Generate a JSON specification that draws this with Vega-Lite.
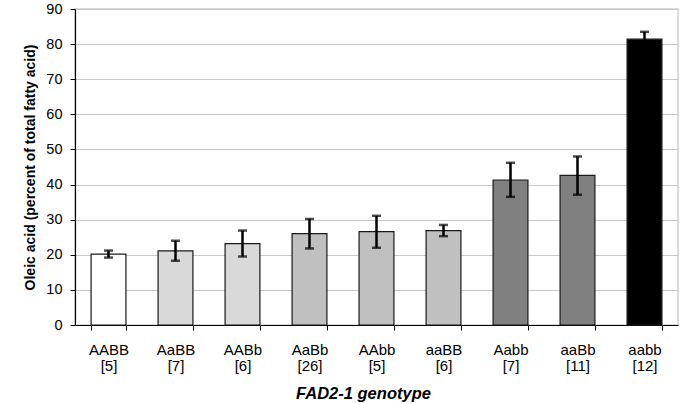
{
  "$schema": "https://vega.github.io/schema/vega-lite/v6.json",
  "width": 603,
  "height": 316,
  "autosize": {"type": "none"},
  "padding": {"left": 75, "top": 9, "right": 7, "bottom": 78},
  "background": "white",
  "config": {
    "font": "Liberation Sans",
    "view": {"stroke": "#cfcfcf", "strokeWidth": 1.5},
    "axisY": {
      "titleFontSize": 14,
      "titleFontWeight": "bold",
      "titleColor": "black",
      "titlePadding": 8,
      "labelOverlap": false,
      "labelFontSize": 14.5,
      "labelColor": "black",
      "labelPadding": 8,
      "tickColor": "black",
      "tickSize": 5,
      "domainColor": "black",
      "domainWidth": 1.2,
      "grid": true,
      "gridColor": "#c8c8c8",
      "gridWidth": 1.2
    }
  },
  "data": {
    "values": [
      {"label": "AABB [5]", "mutant_alleles": 0, "oleic": 20.2, "lower": 19.2, "upper": 21.2},
      {"label": "AaBB [7]", "mutant_alleles": 1, "oleic": 21.1, "lower": 18.3, "upper": 24.0},
      {"label": "AABb [6]", "mutant_alleles": 1, "oleic": 23.2, "lower": 19.5, "upper": 26.9},
      {"label": "AaBb [26]", "mutant_alleles": 2, "oleic": 26.0, "lower": 21.8, "upper": 30.2},
      {"label": "AAbb [5]", "mutant_alleles": 2, "oleic": 26.6, "lower": 22.0, "upper": 31.1},
      {"label": "aaBB [6]", "mutant_alleles": 2, "oleic": 26.9, "lower": 25.3, "upper": 28.5},
      {"label": "Aabb [7]", "mutant_alleles": 3, "oleic": 41.3, "lower": 36.5, "upper": 46.2},
      {"label": "aaBb [11]", "mutant_alleles": 3, "oleic": 42.6, "lower": 37.1, "upper": 48.0},
      {"label": "aabb [12]", "mutant_alleles": 4, "oleic": 81.4, "lower": 79.3, "upper": 83.5}
    ]
  },
  "encoding": {
    "x": {
      "field": "label",
      "type": "nominal",
      "sort": null,
      "scale": {"paddingInner": 0.48, "paddingOuter": 0.24},
      "axis": {
        "title": "FAD2-1 genotype",
        "titleFont": "Liberation Sans",
        "titleFontSize": 16.5,
        "titleFontWeight": "bold",
        "titleFontStyle": "italic",
        "titleColor": "black",
        "titlePadding": 12,
        "titleX": 288,
        "titleAnchor": "start",
        "titleAlign": "center",
        "labelExpr": "split(datum.label, ' ')",
        "labelAngle": 0,
        "labelFontSize": 15,
        "labelLineHeight": 16.5,
        "labelColor": "black",
        "labelPadding": 12,
        "tickBand": "extent",
        "tickColor": "black",
        "tickSize": 5,
        "domainColor": "black",
        "domainWidth": 1.2,
        "grid": false
      }
    }
  },
  "layer": [
    {
      "mark": {"type": "bar", "stroke": "#1a1a1a", "strokeWidth": 1.2},
      "encoding": {
        "y": {
          "field": "oleic",
          "type": "quantitative",
          "scale": {"domain": [0, 90], "nice": false},
          "axis": {"title": "Oleic acid (percent of total fatty acid)", "values": [0, 10, 20, 30, 40, 50, 60, 70, 80, 90]}
        },
        "color": {
          "field": "mutant_alleles",
          "type": "ordinal",
          "scale": {"domain": [0, 1, 2, 3, 4], "range": ["#ffffff", "#d9d9d9", "#c0c0c0", "#808080", "#000000"]},
          "legend": null
        }
      }
    },
    {
      "mark": {"type": "rule", "color": "black", "strokeWidth": 2.5},
      "encoding": {
        "y": {"field": "lower", "type": "quantitative", "axis": {"title": "Oleic acid (percent of total fatty acid)", "values": [0, 10, 20, 30, 40, 50, 60, 70, 80, 90]}},
        "y2": {"field": "upper"}
      }
    },
    {
      "mark": {"type": "tick", "color": "black", "thickness": 2.5, "size": 9},
      "encoding": {"y": {"field": "upper", "type": "quantitative", "axis": {"title": "Oleic acid (percent of total fatty acid)", "values": [0, 10, 20, 30, 40, 50, 60, 70, 80, 90]}}}
    },
    {
      "mark": {"type": "tick", "color": "black", "thickness": 2.5, "size": 9},
      "encoding": {"y": {"field": "lower", "type": "quantitative", "axis": {"title": "Oleic acid (percent of total fatty acid)", "values": [0, 10, 20, 30, 40, 50, 60, 70, 80, 90]}}}
    }
  ]
}
